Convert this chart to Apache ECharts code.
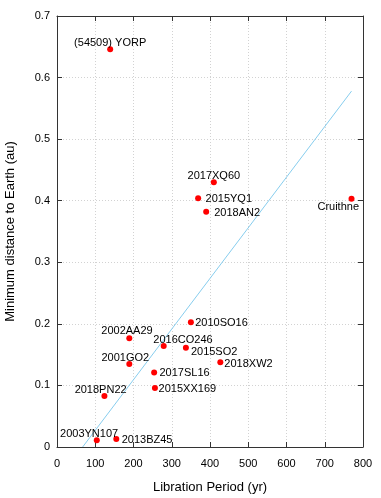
<!DOCTYPE html>
<html>
<head>
<meta charset="utf-8">
<script src="https://cdn.jsdelivr.net/npm/echarts@6/dist/echarts.min.js"></script>
<style>
html,body{margin:0;padding:0;background:#fff;}
#chart{width:381px;height:498px;}
</style>
</head>
<body>
<div id="chart"></div>
<script>
// ---- data ----
const names = ["(54509) YORP","2017XQ60","2015YQ1","2018AN2","Cruithne","2010SO16","2002AA29","2016CO246","2015SO2","2018XW2","2001GO2","2017SL16","2015XX169","2018PN22","2003YN107","2013BZ45"];
const periods = [139, 410, 369, 390, 770, 350, 189, 279, 337, 427, 189, 254, 256, 124, 104, 155];
const distances = [0.646, 0.430, 0.404, 0.382, 0.403, 0.2025, 0.1765, 0.164, 0.161, 0.1375, 0.135, 0.121, 0.096, 0.083, 0.011, 0.013];
const fitX = [67, 770];
const fitY = [0, 0.578];
const xTicks = [0,100,200,300,400,500,600,700,800];
const yTicks = [0,0.1,0.2,0.3,0.4,0.5,0.6,0.7];

// ---- label placement (style): pixel shift of label anchor from the point ----
const labelStyle = {
  "(54509) YORP": {dx:0, dy:-6.5, align:"center"},
  "2017XQ60": {dx:0, dy:-6.3, align:"center"},
  "2015YQ1": {dx:7.4, dy:0.7, align:"left"},
  "2018AN2": {dx:8, dy:1, align:"left"},
  "Cruithne": {dx:-13.3, dy:7.7, align:"center"},
  "2010SO16": {dx:4.3, dy:0, align:"left"},
  "2002AA29": {dx:-2.3, dy:-8.3, align:"center"},
  "2016CO246": {dx:19.3, dy:-6.7, align:"center"},
  "2015SO2": {dx:5, dy:3.7, align:"left"},
  "2018XW2": {dx:4, dy:1, align:"left"},
  "2001GO2": {dx:-4, dy:-6.7, align:"center"},
  "2017SL16": {dx:5.3, dy:0.4, align:"left"},
  "2015XX169": {dx:3.7, dy:0.6, align:"left"},
  "2018PN22": {dx:-3.8, dy:-6.7, align:"center"},
  "2003YN107": {dx:-7.7, dy:-6.3, align:"center"},
  "2013BZ45": {dx:5.4, dy:0.7, align:"left"}
};

const FONT = "Liberation Sans";
const TXT = "#000";
const SYM = 6;
const scatterData = names.map((n,i)=>{
  const s = labelStyle[n] || {dx:0, dy:-6, align:"center"};
  return {
    name: n,
    value: [periods[i], distances[i]],
    label: {
      show:true, formatter:n, color:TXT, fontFamily:FONT, fontSize:11,
      position:[SYM/2 + s.dx, SYM/2 + s.dy + 0.5],
      align:s.align, verticalAlign:"middle"
    }
  };
});

function axisCommon(){
  return {
    axisLine:{show:true, onZero:false, lineStyle:{color:"#333", width:1}},
    axisTick:{show:true, inside:true, length:5, lineStyle:{color:"#333"}}
  };
}
const GRID = {show:true, lineStyle:{color:"#d2d2d2", type:[1,2], width:1}};

const chart = echarts.init(document.getElementById('chart'), null, {renderer:'canvas'});
chart.setOption({
  animation:false,
  backgroundColor:"#fff",
  grid:{left:57, right:18, top:16, bottom:51, containLabel:false, outerBoundsMode:"none"},
  xAxis:[
    Object.assign({
      type:"value", min:xTicks[0], max:xTicks[xTicks.length-1], interval:100,
      position:"bottom",
      name:"Libration Period (yr)", nameLocation:"middle", nameGap:34,
      nameTextStyle:{fontFamily:FONT, fontSize:13, color:TXT},
      axisLabel:{fontFamily:FONT, fontSize:11, color:TXT, margin:11},
      splitLine:GRID
    }, axisCommon()),
    Object.assign({
      type:"value", min:xTicks[0], max:xTicks[xTicks.length-1], interval:100,
      position:"top", axisLabel:{show:false}, splitLine:{show:false}
    }, axisCommon())
  ],
  yAxis:[
    Object.assign({
      type:"value", min:yTicks[0], max:yTicks[yTicks.length-1], interval:0.1,
      position:"left",
      name:"Minimum distance to Earth (au)", nameLocation:"middle", nameGap:40, nameRotate:90,
      nameTextStyle:{fontFamily:FONT, fontSize:13, color:TXT},
      axisLabel:{fontFamily:FONT, fontSize:11, color:TXT, margin:7,
        formatter:v=>String(Math.round(v*10)/10)},
      splitLine:GRID
    }, axisCommon()),
    Object.assign({
      type:"value", min:yTicks[0], max:yTicks[yTicks.length-1], interval:0.1,
      position:"right", axisLabel:{show:false}, splitLine:{show:false}
    }, axisCommon())
  ],
  series:[
    {
      type:"line", xAxisIndex:0, yAxisIndex:0,
      data: fitX.map((x,i)=>[x, fitY[i]]),
      symbol:"none", lineStyle:{color:"#87cdee", width:1}, z:2, silent:true
    },
    {
      type:"scatter", xAxisIndex:0, yAxisIndex:0,
      data: scatterData, symbolSize:SYM,
      itemStyle:{color:"#ff0000", opacity:1},
      labelLayout:{hideOverlap:false},
      z:3
    }
  ]
});
</script>
</body>
</html>
